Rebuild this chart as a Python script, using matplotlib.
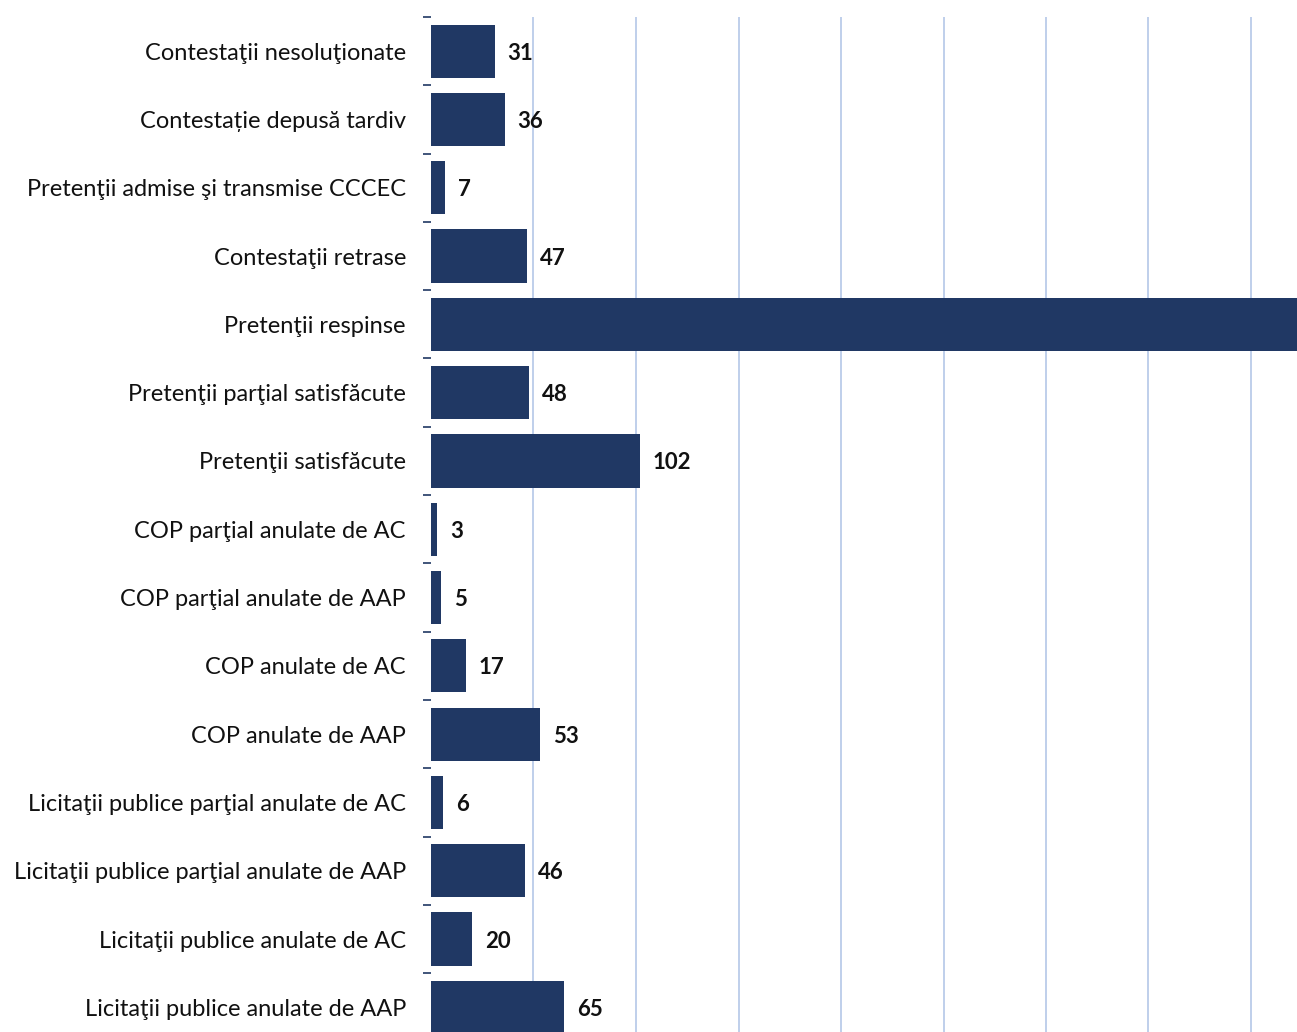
import matplotlib
matplotlib.use("Agg")
import matplotlib.pyplot as plt

categories = [
    "Contestaţii nesoluţionate",
    "Contestație depusă tardiv",
    "Pretenţii admise şi transmise CCCEC",
    "Contestaţii retrase",
    "Pretenţii respinse",
    "Pretenţii parţial satisfăcute",
    "Pretenţii satisfăcute",
    "COP parţial anulate de AC",
    "COP parţial anulate de AAP",
    "COP anulate de AC",
    "COP anulate de AAP",
    "Licitaţii publice parţial anulate de AC",
    "Licitaţii publice parţial anulate de AAP",
    "Licitaţii publice anulate de AC",
    "Licitaţii publice anulate de AAP",
]
values = [31, 36, 7, 47, 460, 48, 102, 3, 5, 17, 53, 6, 46, 20, 65]

plt.rcParams["font.family"] = ["Lato", "DejaVu Sans"]

W, H = 1297, 1032
fig = plt.figure(figsize=(W / 100, H / 100), dpi=100)
n = len(categories)
row_px = 68.3
left_px, top_px = 431, 17
ax_h = n * row_px
ax = fig.add_axes([left_px / W, (H - top_px - ax_h) / H, (W - left_px) / W, ax_h / H])

bar_color = "#203864"
pos = list(range(n))
ax.barh(pos, values, height=0.78, color=bar_color, zorder=3)
ax.set_ylim(n - 0.5, -0.5)
x_max = (W - left_px) / 2.05
ax.set_xlim(0, x_max)

# value labels only for bars that end inside the plotting area
for p, v in zip(pos, values):
    if v + 25 < x_max:
        ax.text(v + 6.3, p + 0.03, str(v), va="center", ha="left", fontsize=16,
                fontweight="bold", color="#111111", zorder=4)

ax.set_xticks(range(50, 450, 50))
ax.xaxis.grid(True, color="#b4c7e7", linewidth=1.2, zorder=0)
ax.tick_params(axis="x", length=0, labelbottom=False)

ax.set_yticks(pos)
ax.set_yticklabels(categories, fontsize=17, color="#111111")
ax.tick_params(axis="y", length=0, pad=18)
ax.set_yticks([p - 0.5 for p in range(n + 1)], minor=True)
ax.tick_params(axis="y", which="minor", length=6, width=1.2, color=bar_color)

for s in ax.spines.values():
    s.set_visible(False)

fig.savefig("out.png", dpi=100)
